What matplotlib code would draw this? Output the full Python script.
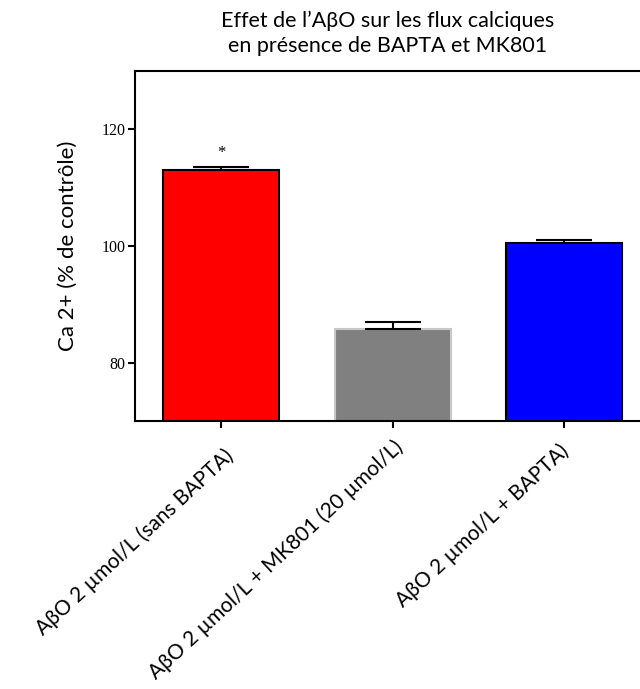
import numpy as np
import matplotlib.pyplot as plt

# data
categories = ["AβO 2 µmol/L (sans BAPTA)",
              "AβO 2 µmol/L + MK801 (20 µmol/L)",
              "AβO 2 µmol/L + BAPTA)"]
values = [113.0, 85.8, 100.5]
errors = [0.6, 1.1, 0.5]
colors = ["#ff0000", "#808080", "#0000ff"]
edges = ["black", "#c8c8c8", "black"]
signif = ["*", "", ""]

# where each rotated label's top-right corner sits, in pixels from its tick
label_offsets = [(3, -24), (0, -16), (-6, -19)]

fig = plt.figure(figsize=(6.4, 6.89), dpi=100)
ax = fig.add_axes([0.211, 0.389, 0.789, 0.508])

x = np.arange(len(categories))
ax.bar(x, values, width=0.675, color=colors, edgecolor=edges, linewidth=1.5, zorder=2)
ax.errorbar(x, values, yerr=[np.zeros(len(errors)), errors], fmt="none",
            ecolor="black", elinewidth=1.5, capsize=20, capthick=1.5, zorder=3)

for xi, v, e, s in zip(x, values, errors, signif):
    if s:
        ax.text(xi, v + e + 1.0, s, ha="center", va="bottom",
                fontsize=12, family="Liberation Serif")

ax.set_xlim(-0.5, 2.44)
ax.set_ylim(70, 130)
ax.set_yticks([80, 100, 120])
ax.set_yticklabels(["80", "100", "120"], family="Liberation Serif", fontsize=11.5)
ax.set_xticks(x)
ax.set_xticklabels([])
ax.tick_params(axis="x", length=5, width=1.5)
ax.tick_params(axis="y", length=5, width=1.5, pad=2)

# rotated category labels, placed one by one
for xi, cat, off in zip(x, categories, label_offsets):
    ax.annotate(cat, xy=(xi, 0), xycoords=("data", "axes fraction"),
                xytext=off, textcoords="offset pixels",
                rotation=43, ha="right", va="top", rotation_mode="anchor",
                family="Lato", fontsize=15, annotation_clip=False)

ax.spines["right"].set_visible(False)
for side in ["left", "bottom", "top"]:
    ax.spines[side].set_linewidth(1.5)

ax.set_ylabel("Ca 2+ (% de contrôle)", family="Lato", fontsize=16, labelpad=17)

fig.text(0.605, 0.985, "Effet de l\u2019AβO sur les flux calciques\nen présence de BAPTA et MK801",
         ha="center", va="top", family="Lato", fontsize=15.5, linespacing=1.35)

fig.savefig("out.png", dpi=100)
